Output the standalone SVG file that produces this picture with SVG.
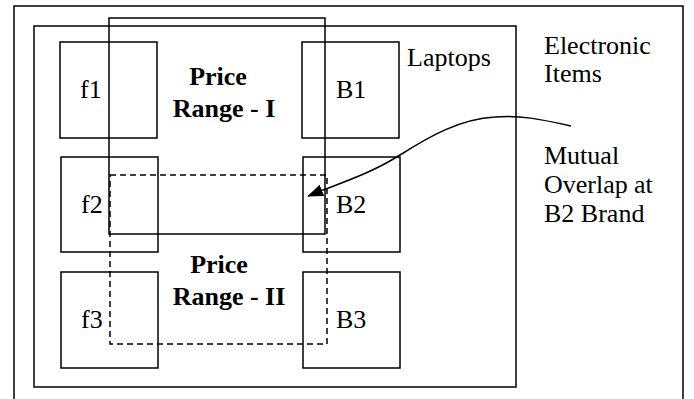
<svg xmlns="http://www.w3.org/2000/svg" width="694" height="399" viewBox="0 0 694 399">
<defs>
<style>
.box{fill:none;stroke:#000;stroke-width:1.5}
.dash{fill:none;stroke:#000;stroke-width:1.5;stroke-dasharray:6,4}
.con{fill:none;stroke:#000;stroke-width:1.5}
</style>
<marker id="ah" markerWidth="16" markerHeight="12" refX="15" refY="6" orient="auto" markerUnits="userSpaceOnUse">
<path d="M0,0 L16,6 L0,12 Z" fill="#000"/>
</marker>
</defs>
<rect width="694" height="399" fill="#fff"/>
<g font-family="Liberation Serif, Times New Roman, Times, DejaVu Serif, serif" font-size="26" fill="#000">
<g id="electronic-items">
<rect class="box" x="14" y="6" width="669" height="400"/>
<text x="544" y="54">Electronic</text>
<text x="544" y="82">Items</text>
</g>
<g id="laptops">
<rect class="box" x="34" y="26" width="482" height="361"/>
<text x="407" y="66">Laptops</text>
</g>
<g id="f1"><rect class="box" x="60" y="42" width="97" height="96"/><text x="80" y="98">f1</text></g>
<g id="B1"><rect class="box" x="302" y="42" width="97" height="96"/><text x="336" y="98">B1</text></g>
<g id="f2"><rect class="box" x="61" y="157" width="97" height="95"/><text x="81" y="213">f2</text></g>
<g id="B2"><rect class="box" x="303" y="157" width="97" height="95"/><text x="336" y="213">B2</text></g>
<g id="f3"><rect class="box" x="61" y="272" width="97" height="96"/><text x="81" y="328">f3</text></g>
<g id="B3"><rect class="box" x="303" y="272" width="97" height="96"/><text x="336" y="328">B3</text></g>
<g id="price-range-1" font-weight="bold">
<rect class="box" x="109" y="18" width="216" height="216"/>
<text x="218" y="85" text-anchor="middle">Price</text>
<text x="224" y="117" text-anchor="middle">Range - I</text>
</g>
<g id="price-range-2" font-weight="bold">
<rect class="dash" x="110" y="175" width="217" height="169"/>
<text x="219" y="273" text-anchor="middle">Price</text>
<text x="229" y="305" text-anchor="middle">Range - II</text>
</g>
<g id="mutual-overlap">
<text x="544" y="164">Mutual</text>
<text x="544" y="193">Overlap<tspan x="634">at</tspan></text>
<text x="544" y="222">B2 Brand</text>
</g>
</g>
<g id="connectors">
<path class="con" d="M571,126 C540,119 520,115 495,117 C460,119 430,136 400,155 C370,174 340,183 308,196" marker-end="url(#ah)"/>
</g>
</svg>
